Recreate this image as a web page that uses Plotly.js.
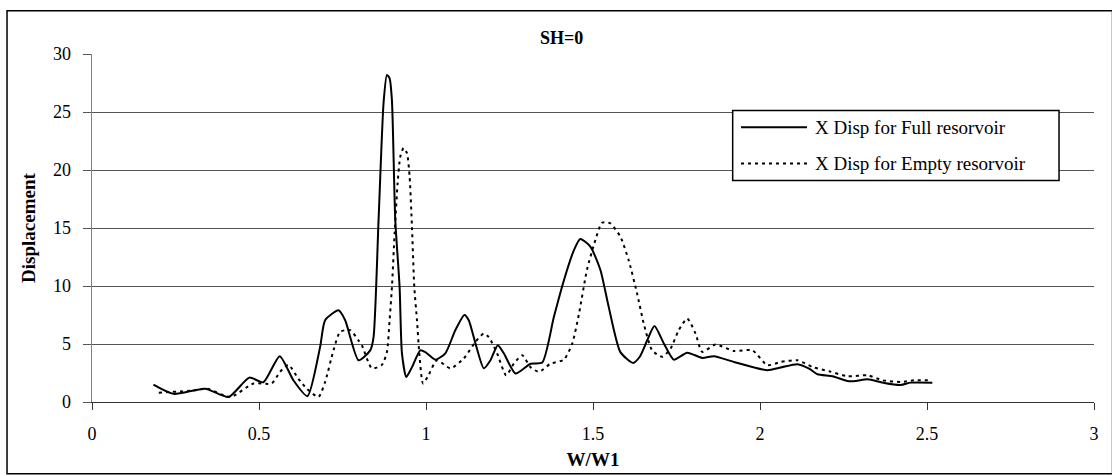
<!DOCTYPE html>
<html>
<head>
<meta charset="utf-8">
<script src="https://cdn.plot.ly/plotly-3.0.1.min.js"></script>
<style>html,body{margin:0;padding:0;background:#fff;}#chart{width:1112px;height:475px;}</style>
</head>
<body>
<div id="chart"></div>
<script>
var chartTitle = "SH=0";
var xTitle = "W/W1";
var yTitle = "Displacement";
var fullName = "X Disp for Full resorvoir";
var emptyName = "X Disp for Empty resorvoir";

var fullX = [0.184,0.244,0.339,0.409,0.471,0.513,0.562,0.603,0.645,0.683,0.698,0.738,0.758,0.798,0.833,0.843,0.858,0.873,0.883,0.891,0.898,0.908,0.921,0.928,0.941,0.958,0.983,0.998,1.028,1.058,1.088,1.115,1.128,1.148,1.173,1.193,1.215,1.233,1.268,1.313,1.348,1.383,1.413,1.443,1.462,1.492,1.522,1.547,1.582,1.620,1.640,1.662,1.684,1.712,1.742,1.782,1.827,1.862,1.922,2.022,2.062,2.112,2.147,2.172,2.217,2.262,2.287,2.322,2.372,2.421,2.451,2.516];
var fullY = [1.5,0.7,1.15,0.43,2.1,1.7,3.95,1.87,0.5,4.75,7.05,7.9,7.05,3.6,4.45,5.6,15.7,25.8,28.2,27.9,26.0,15.7,9.9,4.2,2.16,3.0,4.45,4.3,3.65,4.2,6.2,7.5,7.05,5.05,2.9,3.6,4.9,4.2,2.45,3.3,3.4,7.35,10.5,13.1,14.05,13.4,11.4,8.2,4.3,3.37,3.9,5.3,6.55,5.05,3.65,4.25,3.8,3.95,3.45,2.74,2.97,3.26,2.88,2.39,2.22,1.81,1.81,1.96,1.64,1.47,1.67,1.67];

var emptyX = [0.200,0.304,0.344,0.414,0.484,0.538,0.563,0.588,0.618,0.643,0.678,0.698,0.723,0.743,0.773,0.798,0.808,0.838,0.868,0.883,0.891,0.898,0.906,0.915,0.923,0.933,0.943,0.951,0.958,0.965,0.973,0.980,0.991,1.005,1.033,1.073,1.113,1.148,1.173,1.188,1.213,1.240,1.263,1.288,1.313,1.338,1.373,1.413,1.438,1.458,1.482,1.507,1.527,1.552,1.582,1.607,1.632,1.652,1.677,1.707,1.732,1.757,1.782,1.807,1.827,1.867,1.922,1.977,2.022,2.062,2.112,2.157,2.207,2.262,2.322,2.367,2.421,2.461,2.506];
var emptyY = [0.8,1.0,1.15,0.43,1.6,1.6,2.6,3.2,2.0,1.15,0.43,1.73,4.46,6.05,6.2,5.3,4.9,2.9,3.2,4.3,7.05,9.9,14.5,18.85,21.15,21.9,21.45,19.4,15.1,9.9,7.05,4.18,1.6,2.16,3.6,2.9,3.75,5.18,5.9,5.6,4.18,2.3,3.3,4.03,3.0,2.6,3.3,3.65,5.05,7.6,11.4,13.95,15.45,15.4,14.25,12.2,9.35,6.75,4.46,3.9,4.6,6.2,7.2,5.9,4.32,4.95,4.4,4.46,3.17,3.45,3.6,3.02,2.65,2.22,2.3,1.87,1.73,1.87,1.87];

var xTicks = [0,0.5,1,1.5,2,2.5,3];
var yTicks = [0,5,10,15,20,25,30];

var serif = "'Liberation Serif', 'Times New Roman', serif";
var dotDash = "3px,4px";

var traces = [
  {x: fullX, y: fullY, name: fullName, type: "scatter", mode: "lines", showlegend: false,
   line: {color: "#000", width: 2, shape: "spline", smoothing: 0.6}},
  {x: emptyX, y: emptyY, name: emptyName, type: "scatter", mode: "lines", showlegend: false,
   line: {color: "#000", width: 2, dash: dotDash, shape: "spline", smoothing: 0.6}}
];

// legend box geometry (paper coordinates)
var lgX0 = 0.6394, lgX1 = 0.9651, lgY0 = 0.6363, lgY1 = 0.8373;
var lnX0 = 0.6477, lnX1 = 0.7136, txtX = 0.7196;
var row1 = 0.7893, row2 = 0.6851;

var layout = {
  width: 1112, height: 475,
  margin: {l: 92, r: 18, t: 54, b: 73},
  paper_bgcolor: "#fff", plot_bgcolor: "#fff",
  font: {family: serif, size: 18, color: "#000"},
  showlegend: false,
  xaxis: {range: [0, 3], tickvals: xTicks, ticktext: xTicks.map(String),
    showgrid: false, zeroline: false, showline: true, linecolor: "#333", linewidth: 1,
    ticks: "outside", ticklen: 7, tickcolor: "#333", ticklabelstandoff: 8,
    tickfont: {family: serif, size: 18, color: "#000"},
    title: {text: "<b>" + xTitle + "</b>", font: {family: serif, size: 19, color: "#000"}, standoff: 10}},
  yaxis: {range: [0, 30], tickvals: yTicks, ticktext: yTicks.map(String),
    showgrid: true, gridcolor: "#555", gridwidth: 1, zeroline: false,
    showline: true, linecolor: "#808080", linewidth: 1.5,
    ticks: "outside", ticklen: 8, tickcolor: "#555", ticklabelstandoff: 8,
    tickfont: {family: serif, size: 18, color: "#000"},
    title: {text: "<b>" + yTitle + "</b>", font: {family: serif, size: 19, color: "#000"}, standoff: 12}},
  annotations: [
    {text: "<b>" + chartTitle + "</b>", xref: "paper", yref: "paper", x: 0.469, y: 1.047,
     xanchor: "center", yanchor: "middle", showarrow: false,
     font: {family: serif, size: 18, color: "#000"}},
    {text: fullName, xref: "paper", yref: "paper", x: txtX, y: row1, xanchor: "left", yanchor: "middle",
     showarrow: false, font: {family: serif, size: 19, color: "#000"}},
    {text: emptyName, xref: "paper", yref: "paper", x: txtX, y: row2, xanchor: "left", yanchor: "middle",
     showarrow: false, font: {family: serif, size: 19, color: "#000"}}
  ],
  shapes: [
    {type: "rect", xref: "paper", yref: "paper", x0: lgX0, x1: lgX1, y0: lgY0, y1: lgY1,
     line: {color: "#000", width: 1.5}, fillcolor: "#fff", layer: "above"},
    {type: "line", xref: "paper", yref: "paper", x0: lnX0, x1: lnX1, y0: row1, y1: row1,
     line: {color: "#000", width: 2}, layer: "above"},
    {type: "line", xref: "paper", yref: "paper", x0: lnX0, x1: lnX1, y0: row2, y1: row2,
     line: {color: "#000", width: 2, dash: dotDash}, layer: "above"},
    {type: "rect", xref: "paper", yref: "paper", x0: -0.0848, x1: 1.0185, y0: -0.206, y1: 1.124,
     line: {color: "#000", width: 1.5}, fillcolor: "rgba(0,0,0,0)", layer: "above"}
  ]
};

Plotly.newPlot("chart", traces, layout, {displayModeBar: false, staticPlot: true});
</script>
</body>
</html>
